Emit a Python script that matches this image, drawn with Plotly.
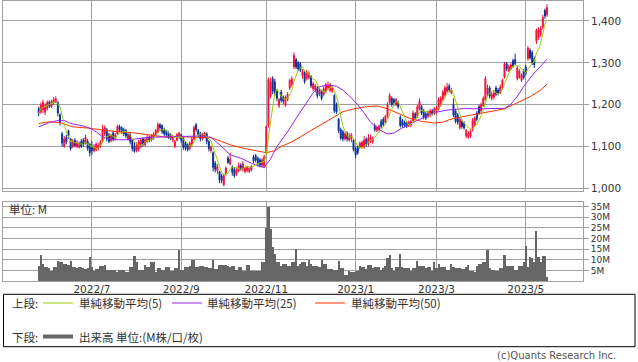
import plotly.graph_objects as go
import pandas as pd

# ---- data (trading days from late May 2022 to mid May 2023) ----
open_ = [1190,1182,1188,1182,1190,1206,1195,1204,1206,1205,
 1175,1130,1100,1122,1138,1118,1100,1115,1100,1098,
 1112,1116,1108,1112,1105,1098,1090,1092,1096,1100,
 1112,1130,1140,1128,1114,1132,1118,1130,1148,1145,
 1140,1138,1118,1128,1115,1100,1090,1092,1100,1118,
 1104,1112,1122,1115,1120,1128,1135,1152,1150,1140,
 1138,1132,1128,1115,1100,1115,1122,1128,1120,1108,
 1105,1095,1105,1118,1152,1138,1132,1118,1125,1130,
 1112,1090,1085,1060,1042,1040,1030,1008,1035,1072,
 1058,1050,1045,1035,1042,1055,1045,1040,1042,1040,
 1044,1075,1078,1072,1068,1055,1052,1085,1150,1220,
 1262,1255,1232,1198,1230,1218,1198,1212,1240,1248,
 1290,1308,1300,1298,1270,1278,1262,1265,1268,1238,
 1235,1240,1225,1232,1225,1232,1240,1235,1232,1222,
 1200,1165,1140,1135,1118,1132,1115,1118,1115,1095,
 1098,1098,1100,1098,1118,1105,1112,1110,1150,1138,
 1140,1160,1165,1158,1172,1205,1215,1212,1200,1205,
 1170,1162,1158,1158,1150,1150,1162,1178,1172,1190,
 1195,1185,1178,1172,1175,1185,1178,1182,1190,1200,
 1212,1222,1232,1245,1228,1200,1185,1175,1145,1160,
 1155,1125,1122,1125,1140,1152,1180,1195,1185,1198,
 1212,1225,1240,1215,1218,1240,1235,1228,1240,1265,
 1298,1280,1285,1305,1308,1262,1265,1258,1280,1290,
 1310,1330,1325,1310,1352,1360,1368,1385,1425,1415]
high = [1195,1205,1212,1203,1210,1210,1212,1218,1220,1208,
 1180,1135,1125,1128,1140,1120,1118,1120,1115,1112,
 1118,1120,1128,1118,1108,1112,1106,1110,1108,1115,
 1152,1150,1144,1132,1130,1138,1132,1152,1152,1148,
 1145,1142,1134,1132,1118,1110,1110,1116,1120,1122,
 1120,1128,1126,1130,1134,1142,1158,1156,1153,1145,
 1140,1136,1132,1128,1116,1132,1135,1130,1122,1112,
 1108,1112,1122,1150,1156,1142,1135,1132,1135,1134,
 1115,1102,1088,1065,1058,1042,1035,1035,1052,1078,
 1085,1055,1050,1050,1062,1060,1065,1052,1054,1052,
 1056,1080,1082,1076,1072,1072,1080,1150,1265,1265,
 1268,1262,1236,1216,1235,1222,1222,1230,1262,1268,
 1325,1312,1304,1302,1285,1282,1283,1280,1270,1255,
 1250,1244,1240,1236,1244,1252,1255,1252,1245,1225,
 1205,1168,1145,1140,1135,1136,1132,1132,1118,1100,
 1102,1112,1114,1125,1122,1130,1128,1124,1155,1150,
 1152,1165,1170,1176,1206,1228,1220,1216,1216,1210,
 1175,1166,1162,1160,1162,1164,1186,1182,1200,1215,
 1200,1190,1182,1186,1190,1190,1194,1196,1218,1220,
 1235,1245,1252,1250,1240,1215,1190,1180,1170,1165,
 1160,1142,1136,1142,1168,1172,1185,1200,1205,1220,
 1268,1248,1245,1230,1235,1245,1240,1248,1262,1302,
 1302,1296,1300,1310,1322,1292,1285,1275,1285,1295,
 1340,1335,1330,1315,1382,1385,1388,1415,1430,1440]
low = [1172,1178,1180,1175,1186,1192,1192,1200,1204,1172,
 1150,1100,1097,1105,1118,1090,1096,1098,1096,1095,
 1096,1100,1105,1090,1076,1080,1086,1088,1090,1096,
 1108,1125,1112,1108,1110,1112,1115,1128,1135,1130,
 1125,1120,1114,1105,1088,1085,1086,1088,1096,1100,
 1100,1108,1110,1112,1116,1125,1132,1138,1130,1125,
 1122,1118,1115,1110,1096,1112,1118,1108,1092,1090,
 1088,1090,1100,1115,1135,1122,1112,1114,1120,1105,
 1088,1085,1040,1038,1035,1012,1012,1005,1030,1058,
 1055,1030,1025,1030,1038,1042,1040,1036,1038,1036,
 1040,1060,1062,1052,1050,1050,1048,1080,1145,1215,
 1225,1220,1208,1192,1205,1202,1195,1208,1235,1242,
 1285,1285,1280,1278,1262,1250,1258,1260,1240,1232,
 1230,1215,1220,1210,1220,1228,1235,1230,1228,1180,
 1178,1132,1115,1112,1114,1112,1112,1110,1088,1072,
 1080,1095,1096,1095,1100,1100,1108,1106,1135,1134,
 1136,1142,1148,1155,1168,1200,1195,1198,1196,1190,
 1145,1145,1145,1144,1146,1146,1158,1164,1168,1186,
 1175,1165,1163,1168,1170,1174,1175,1178,1186,1195,
 1208,1218,1228,1230,1225,1170,1155,1152,1140,1142,
 1140,1120,1118,1120,1136,1148,1160,1175,1180,1195,
 1210,1220,1215,1210,1212,1220,1222,1225,1235,1262,
 1280,1278,1282,1288,1294,1258,1262,1255,1260,1270,
 1305,1308,1295,1288,1345,1355,1362,1380,1405,1410]
close = [1180,1198,1205,1198,1206,1196,1208,1212,1214,1180,
 1158,1108,1118,1110,1125,1095,1112,1102,1110,1108,
 1100,1104,1122,1095,1085,1090,1100,1105,1102,1110,
 1140,1145,1118,1112,1126,1118,1128,1148,1140,1135,
 1130,1125,1130,1112,1095,1088,1105,1112,1115,1105,
 1116,1122,1115,1125,1130,1138,1152,1145,1135,1130,
 1128,1122,1120,1125,1112,1128,1132,1115,1098,1095,
 1092,1108,1118,1145,1140,1128,1118,1128,1132,1112,
 1095,1098,1050,1045,1052,1020,1018,1030,1048,1062,
 1070,1038,1030,1045,1055,1048,1058,1048,1050,1048,
 1052,1065,1068,1058,1055,1068,1075,1148,1260,1255,
 1232,1228,1215,1212,1210,1208,1218,1225,1258,1262,
 1318,1290,1285,1282,1280,1255,1278,1275,1245,1250,
 1245,1222,1236,1215,1238,1248,1245,1248,1240,1185,
 1182,1138,1120,1118,1130,1118,1125,1128,1092,1080,
 1085,1108,1110,1115,1105,1120,1122,1118,1140,1146,
 1148,1148,1152,1172,1200,1222,1200,1205,1212,1195,
 1150,1150,1150,1148,1158,1160,1180,1168,1195,1208,
 1180,1170,1168,1182,1185,1178,1190,1192,1212,1215,
 1230,1240,1242,1235,1235,1175,1160,1158,1165,1148,
 1145,1138,1132,1138,1162,1168,1165,1180,1200,1215,
 1262,1240,1220,1225,1228,1225,1228,1242,1258,1298,
 1285,1292,1295,1292,1298,1288,1280,1270,1265,1275,
 1335,1312,1300,1295,1378,1380,1382,1408,1412,1432]
volume_m = [7.0,12.4,8.1,6.6,6.6,6.1,5.0,6.6,6.6,9.7,
 9.0,8.9,8.1,8.1,7.7,9.7,6.6,6.6,6.1,6.6,
 6.6,6.1,6.0,6.1,11.6,6.6,5.0,5.8,5.8,7.3,
 7.3,7.8,5.5,5.5,5.5,5.5,5.5,4.2,5.5,5.5,
 5.5,4.5,4.5,6.6,6.6,12.0,8.9,5.5,5.5,5.5,
 7.7,6.6,6.6,8.9,8.9,4.2,6.1,6.1,5.5,5.5,
 6.6,6.6,5.0,5.0,6.1,6.1,14.9,5.5,5.5,6.6,
 6.6,7.2,10.2,10.2,6.6,6.6,7.3,7.3,6.6,6.6,
 6.1,6.1,10.2,5.8,5.8,7.7,7.7,7.7,7.7,7.2,
 6.6,7.2,7.2,5.5,6.6,6.6,5.0,5.0,7.7,7.7,
 5.0,5.0,5.0,5.0,5.0,9.2,9.2,24.9,34.8,24.6,
 16.0,12.8,8.9,8.9,7.3,8.1,8.1,7.3,7.3,9.2,
 9.2,15.2,7.3,8.1,9.2,9.2,7.0,10.2,8.1,7.3,
 7.3,7.3,6.6,10.2,8.1,8.1,5.8,5.8,5.8,5.5,
 5.5,9.7,6.1,6.1,2.9,2.9,5.0,4.5,4.5,5.0,
 5.0,7.3,6.6,6.6,5.8,7.7,7.7,6.1,6.6,6.6,
 6.6,5.5,6.1,7.3,10.8,12.4,6.1,5.0,6.6,6.6,
 12.8,6.6,6.1,6.1,6.1,5.0,6.1,6.1,9.7,7.3,
 7.3,7.3,6.1,6.6,6.6,5.0,8.9,6.1,8.1,6.6,
 6.6,6.6,5.5,5.5,8.1,6.6,6.1,6.1,6.1,5.8,
 5.8,6.6,7.7,5.0,5.0,4.2,7.0,8.1,8.1,9.2,
 9.2,14.9,6.1,5.5,5.5,5.0,5.0,6.1,6.1,12.4,
 7.3,7.0,7.0,7.3,5.5,5.5,7.3,7.3,9.2,16.4,
 6.6,11.3,10.8,9.2,23.8,11.3,8.9,12.0,11.7,1.9]

# moving averages (day index, value)
ma25_idx = [0,5,9,12,15,21,24,27,30,35,40,44,52,60,65,70,76,81,86,90,95,100,104,106,109,112,117,122,
            126,129,132,136,140,143,146,150,153,156,160,164,167,170,174,179,185,192,197,201,204,209,214,
            219,222,225,228,232,236,239]
ma25_val = [1147,1157,1162,1162,1155,1149,1144,1135,1123,1116,1116,1117,1122,1123,1125,1125,1125,1122,1100,
            1080,1072,1060,1052,1050,1070,1100,1135,1175,1207,1228,1243,1247,1244,1235,1221,1200,1180,1158,
            1140,1130,1132,1142,1152,1165,1180,1187,1190,1191,1190,1190,1190,1191,1201,1220,1243,1270,1292,1309]
ma50_idx = [0,5,10,16,23,29,37,44,52,60,68,76,81,86,90,96,103,107,111,114,119,123,126,132,137,143,148,
            154,159,164,170,174,180,186,190,193,198,205,210,215,219,222,226,231,236,239]
ma50_val = [1155,1159,1157,1147,1144,1140,1135,1133,1128,1122,1123,1122,1121,1112,1104,1096,1089,1085,1090,
            1100,1111,1123,1133,1149,1165,1183,1190,1195,1197,1190,1177,1168,1160,1156,1158,1164,1170,1176,
            1182,1186,1190,1197,1208,1219,1235,1249]

tick_idx = [25, 67, 107, 149, 187, 229]
tick_labels = ["2022/7", "2022/9", "2022/11", "2023/1", "2023/3", "2023/5"]
price_ticks = [1000, 1100, 1200, 1300, 1400]
vol_ticks = [5, 10, 15, 20, 25, 30, 35]

# ---- styling ----
RED = "#f0103c"
BLUE = "#0a3296"
C5 = "#99cc00"
C25 = "#9922ee"
C50 = "#ff3300"
GRID = "#a0a0a0"
VOLC = "#666666"
FONT = "DejaVu Sans, Noto Sans CJK JP"
JFONT = "Noto Sans CJK JP"
TXT = "#333333"

x = list(range(len(close)))
ma5 = pd.Series(close).rolling(5, min_periods=1).mean()

fig = go.Figure()
fig.add_trace(go.Scatter(x=ma50_idx, y=ma50_val, mode="lines", line=dict(color=C50, width=1), xaxis="x", yaxis="y"))
fig.add_trace(go.Scatter(x=ma25_idx, y=ma25_val, mode="lines", line=dict(color=C25, width=1), xaxis="x", yaxis="y"))
fig.add_trace(go.Candlestick(x=x, open=open_, high=high, low=low, close=close,
                             increasing=dict(line=dict(color=RED, width=1), fillcolor=RED),
                             decreasing=dict(line=dict(color=BLUE, width=1), fillcolor=BLUE),
                             whiskerwidth=0, xaxis="x", yaxis="y"))
fig.add_trace(go.Scatter(x=x, y=ma5, mode="lines", line=dict(color=C5, width=1), xaxis="x", yaxis="y"))
fig.add_trace(go.Bar(x=x, y=volume_m, marker=dict(color=VOLC, line=dict(width=0)), xaxis="x2", yaxis="y2"))

xr = [-16.8, 255.9]
L, R, T, B = 3, 55, 0, 81
H = 362 - T - B

def py(p):
    return (H - p) / H

def px(p):
    return (p - L) / 580

axis_common = dict(showgrid=True, gridcolor=GRID, gridwidth=1, zeroline=False,
                   showline=True, linecolor=GRID, linewidth=1, mirror=True)

fig.update_layout(
    width=638, height=362, margin=dict(l=L, r=R, t=T, b=B),
    paper_bgcolor="white", plot_bgcolor="white", showlegend=False,
    font=dict(family=FONT, size=11, color=TXT),
    boxgap=0.35, bargap=0,
    xaxis=dict(domain=[0, 1], range=xr, anchor="y", tickvals=tick_idx, showticklabels=False,
               ticks="", rangeslider=dict(visible=False), **axis_common),
    yaxis=dict(domain=[py(190.5), py(0.5)], range=[994.7, 1449], side="right", anchor="x",
               tickvals=price_ticks, tickformat=",d", ticks="outside", ticklen=5, tickcolor=GRID,
               tickfont=dict(size=10.5, color=TXT, family=FONT), **axis_common),
    xaxis2=dict(domain=[0, 1], range=xr, anchor="y2", tickvals=tick_idx, ticktext=tick_labels,
                ticks="", ticklabelstandoff=-2, tickfont=dict(size=10.5, color=TXT, family=FONT),
                **axis_common),
    yaxis2=dict(domain=[0, py(201.7)], range=[0, 37.3], side="right", anchor="x2",
                tickvals=vol_ticks, ticktext=[f"{v}M" for v in vol_ticks], ticks="outside",
                ticklen=5, tickcolor=GRID, tickfont=dict(size=9, color=TXT, family="DejaVu Sans"),
                **axis_common),
)

shapes = [
    dict(type="rect", xref="paper", yref="paper", x0=px(3.5), x1=px(635), y0=py(294.3), y1=py(346.7),
         line=dict(color="black", width=1)),
    dict(type="line", xref="paper", yref="paper", x0=px(43), x1=px(73), y0=py(303), y1=py(303),
         line=dict(color=C5, width=1)),
    dict(type="line", xref="paper", yref="paper", x0=px(172), x1=px(202), y0=py(303), y1=py(303),
         line=dict(color=C25, width=1)),
    dict(type="line", xref="paper", yref="paper", x0=px(315), x1=px(345), y0=py(303), y1=py(303),
         line=dict(color=C50, width=1)),
    dict(type="line", xref="paper", yref="paper", x0=px(43), x1=px(73), y0=py(336.5), y1=py(336.5),
         line=dict(color=VOLC, width=4)),
]
fig.update_layout(shapes=shapes)

def text(s, xp, yp, anchor="left", size=11.5, color=TXT, family=JFONT):
    fig.add_annotation(text=s, xref="paper", yref="paper", x=px(xp), y=py(yp), xanchor=anchor,
                       yanchor="middle", showarrow=False, font=dict(size=size, color=color, family=family))

text("上段:", 10, 303)
text("単純移動平均(5)", 77, 303)
text("単純移動平均(25)", 205, 303)
text("単純移動平均(50)", 349, 303)
text("下段:", 10, 337)
text("出来高 単位:(M株/口/枚)", 77, 337)
text("単位: M", 7, 209)
text("(c)Quants Research Inc.", 618, 355, anchor="right", size=10, color="#555555", family=FONT)

fig.write_html("out.html", config={"displayModeBar": False},
               post_script="document.body.style.margin='0px';document.body.style.overflow='hidden';")
